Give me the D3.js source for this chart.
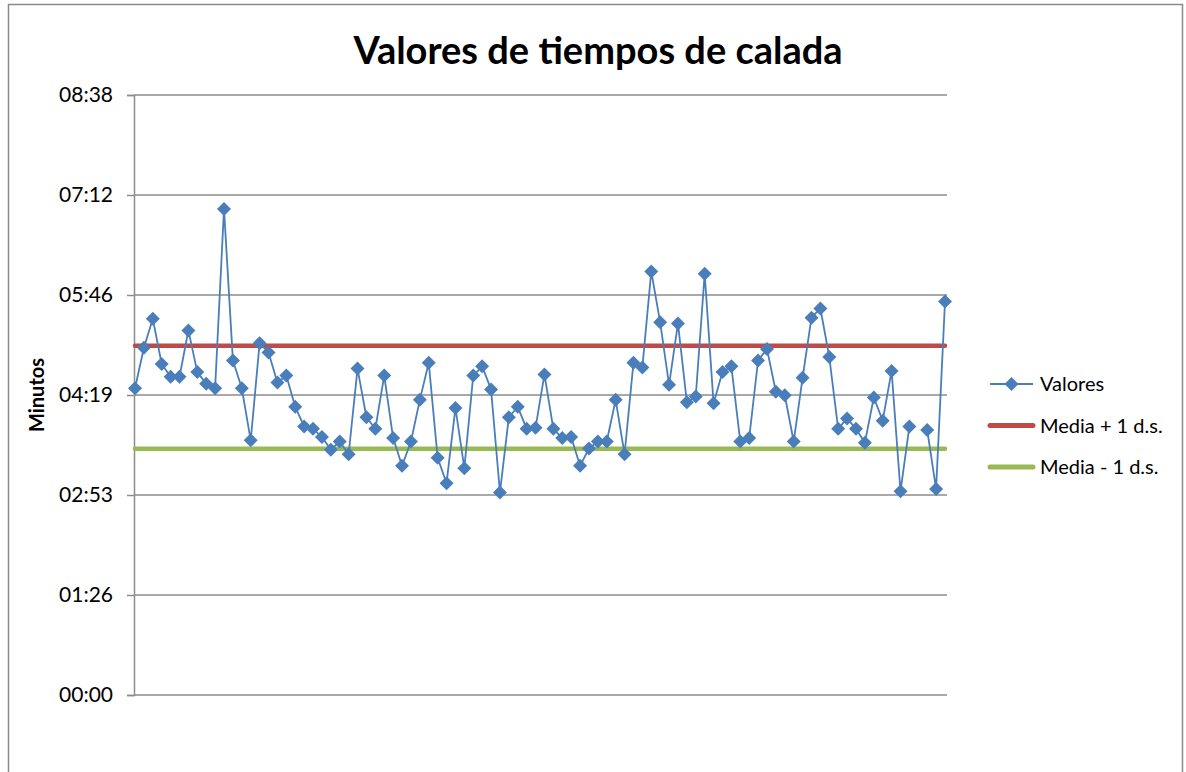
<!DOCTYPE html>
<html>
<head>
<meta charset="utf-8">
<script src="https://cdn.jsdelivr.net/npm/d3@7"></script>
<style>
  body { margin: 0; background: #fff; }
  svg, svg text { font-family: Lato, "Open Sans", sans-serif; }
</style>
</head>
<body>
<div id="chart"></div>
<script>
// time values in seconds, one per calada (null = blank cell)
var categories = d3.range(1, 93);
var valores = [
  265, 300, 325, 286, 275, 275, 315, 279, 269, 265,
  420, 289, 265, 220, 304, 296, 270, 276, 249, 232,
  230, 223, 212, 219, 208, 282, 240, 230, 276, 222,
  198, 219, 255, 287, 205, 183, 248, 196, 276, 284,
  264, 175, 240, 249, 230, 231, 277, 230, 222, 223,
  198, 213, 219, 219, 255, 208, 287, 283, 366, 322,
  268, 321, 253, 258, 364, 252, 279, 284, 219, 222,
  289, 299, 262, 259, 219, 274, 326, 334, 292, 230,
  239, 230, 218, 257, 237, 280, 176, 232, null, 229,
  178, 340
];
var mediaMas = 301.8;   // Media + 1 d.s.
var mediaMenos = 212.8; // Media - 1 d.s.
var tickValues = [0, 86.4, 172.8, 259.2, 345.6, 432, 518.4];
var tickLabels = ["00:00", "01:26", "02:53", "04:19", "05:46", "07:12", "08:38"];

var W = 1186, H = 772;
var plot = {left: 134, right: 945, top: 95, bottom: 695};

var svg = d3.select("#chart").append("svg")
    .attr("width", W)
    .attr("height", H);

// chart frame
svg.append("rect")
    .attr("x", 8.5).attr("y", 4.5)
    .attr("width", 1174).attr("height", 800)
    .attr("fill", "#fff")
    .attr("stroke", "#8a8a8a")
    .attr("stroke-width", 1.5);

var x = d3.scalePoint()
    .domain(categories)
    .range([plot.left + 1, plot.right]);

var y = d3.scaleLinear()
    .domain([0, 518.4])
    .range([plot.bottom, plot.top]);

// gridlines
svg.append("g")
    .selectAll("line")
    .data(tickValues)
  .enter().append("line")
    .attr("x1", plot.left)
    .attr("x2", plot.right + 2)
    .attr("y1", function(d) { return y(d); })
    .attr("y2", function(d) { return y(d); })
    .attr("stroke", "#8c8c8c")
    .attr("stroke-width", 1.5);

// y axis
var yaxis = d3.axisLeft(y)
    .tickValues(tickValues)
    .tickSize(7)
    .tickPadding(14)
    .tickFormat(function(d, i) { return tickLabels[i]; });

var gy = svg.append("g")
    .attr("transform", "translate(" + plot.left + ",0)")
    .call(yaxis)
    .attr("font-family", "Lato, 'Open Sans', sans-serif")
    .attr("font-size", 21);
gy.select(".domain").attr("stroke", "#8c8c8c").attr("stroke-width", 1.5);
gy.selectAll(".tick line").attr("stroke", "#8c8c8c").attr("stroke-width", 1.5);
gy.selectAll(".tick text").attr("fill", "#000");

svg.append("text")
    .attr("transform", "translate(44," + (plot.top + plot.bottom) / 2 + ") rotate(-90)")
    .attr("text-anchor", "middle")
    .style("font-size", "20px")
    .style("font-weight", "bold")
    .text("Minutos");

// title
svg.append("text")
    .attr("x", 598).attr("y", 64)
    .attr("text-anchor", "middle")
    .style("font-size", "38px")
    .style("font-weight", "bold")
    .text("Valores de tiempos de calada");

// mean +/- sd lines
svg.append("line")
    .attr("x1", plot.left + 1).attr("x2", plot.right)
    .attr("y1", y(mediaMas)).attr("y2", y(mediaMas))
    .attr("stroke", "#be4b48").attr("stroke-width", 4.5)
    .attr("stroke-linecap", "round");
svg.append("line")
    .attr("x1", plot.left + 1).attr("x2", plot.right)
    .attr("y1", y(mediaMenos)).attr("y2", y(mediaMenos))
    .attr("stroke", "#98b954").attr("stroke-width", 4.5)
    .attr("stroke-linecap", "round");

// series line
var line = d3.line()
    .defined(function(d) { return d != null; })
    .x(function(d, i) { return x(categories[i]); })
    .y(function(d) { return y(d); });

svg.append("path")
    .datum(valores)
    .attr("fill", "none")
    .attr("stroke", "#4a7ebb")
    .attr("stroke-width", 1.8)
    .attr("stroke-linejoin", "round")
    .attr("d", line);

// diamond markers
var diamond = d3.symbol().type(d3.symbolSquare).size(98);
svg.append("g")
    .selectAll("path")
    .data(valores.map(function(v, i) { return {c: categories[i], v: v}; })
                 .filter(function(d) { return d.v != null; }))
  .enter().append("path")
    .attr("d", diamond)
    .attr("transform", function(d) {
        return "translate(" + x(d.c) + "," + y(d.v) + ") rotate(45)";
    })
    .attr("fill", "#4a7ebb");

// legend
var legend = [
  {label: "Valores", color: "#4a7ebb", w: 1.8, marker: true},
  {label: "Media + 1 d.s.", color: "#be4b48", w: 5, marker: false},
  {label: "Media - 1 d.s.", color: "#98b954", w: 5, marker: false}
];
var lg = svg.append("g").selectAll("g")
    .data(legend)
  .enter().append("g")
    .attr("transform", function(d, i) { return "translate(990," + (384 + i * 41.5) + ")"; });
lg.append("line")
    .attr("x1", 0).attr("x2", 43)
    .attr("stroke", function(d) { return d.color; })
    .attr("stroke-width", function(d) { return d.w; })
    .attr("stroke-linecap", function(d) { return d.marker ? "butt" : "round"; });
lg.filter(function(d) { return d.marker; })
  .append("path")
    .attr("d", diamond)
    .attr("transform", "translate(21.5,0) rotate(45)")
    .attr("fill", "#4a7ebb");
lg.append("text")
    .attr("x", 50).attr("dy", "0.35em")
    .style("font-size", "20px")
    .text(function(d) { return d.label; });
</script>
</body>
</html>
